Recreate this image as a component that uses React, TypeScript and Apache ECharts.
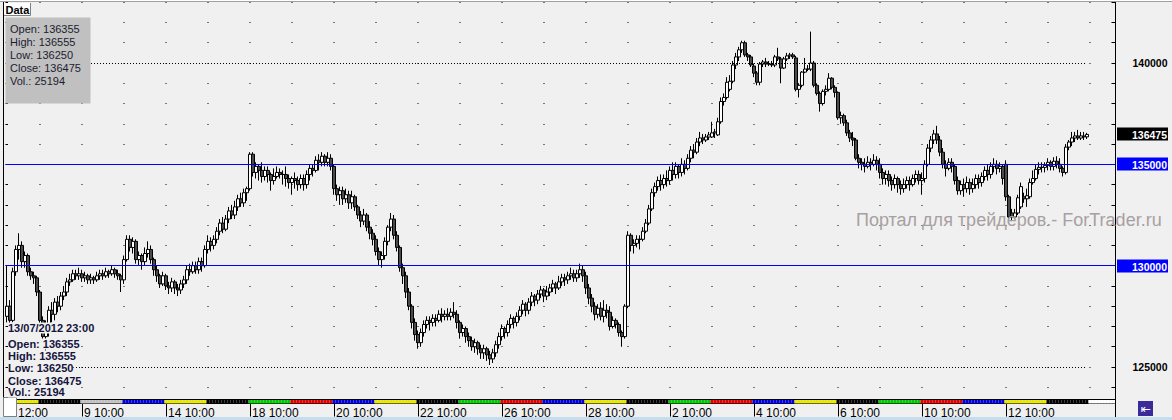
import React, { useEffect, useRef } from "react";
import * as echarts from "echarts";

// ---- time axis data ----
const tradingDays = ["7","8","9","13","14","15","18","19","20","21","22","25","26","27","28","29","2","3","4","5","6","9","10","11","12","13","16"];
// 1 = Mon ... 5 = Fri, 6 = Sat (9 June 2012 was a working Saturday)
const weekdays = [4,5,6,3,4,5,1,2,3,4,5,1,2,3,4,5,1,2,3,4,5,1,2,3,4,5,1];
const firstDayStartHour = 13;
const futureSlots = 9;
const timeLabels = ["12:00","9 10:00","14 10:00","18 10:00","20 10:00","22 10:00","26 10:00","28 10:00","2 10:00","4 10:00","6 10:00","10 10:00","12 10:00"];
const timeLabelBars = [3,25,53,81,109,137,165,193,221,249,277,305,333];
const weekdayColors: Record<number, string> = { 1: "#00c800", 2: "#e00000", 3: "#0000e0", 4: "#e6e600", 5: "#000000", 6: "#c0c0c0" };

// ---- price data: [open, close, low, high] (H1 bars) ----
const candles: number[][] = [
[127500,128000,127200,130000],[128000,127300,127100,128300],[127300,129700,127200,129900],[129700,130800,129500,131000],
[130800,131000,130300,131600],[131000,130200,129900,131200],[130200,130500,129900,130700],[130500,129700,129500,130600],
[129700,129500,129300,129900],[129500,129400,129100,129700],[129400,128700,128500,129500],[128700,127300,127000,128800],
[127300,126500,126300,127500],[126500,126800,125800,127300],[126800,127800,126500,128000],[127800,127600,127200,128200],
[127600,128200,127300,128400],[128200,128000,127700,128500],[128000,128500,127800,128700],[128500,128700,128300,129000],
[128700,129200,128500,129400],[129200,129300,129000,129600],[129300,129600,129200,129800],[129600,129500,129300,129800],
[129500,129600,129300,129900],[129600,129400,129200,129800],[129400,129500,129200,129700],[129500,129300,129100,129600],
[129300,129400,129100,129600],[129400,129300,129100,129500],[129300,129500,129200,129700],[129500,129600,129300,129800],
[129600,129500,129300,129800],[129500,129700,129400,129900],[129700,129600,129400,129800],[129600,129800,129500,130000],
[129800,129600,129400,129900],[129600,129500,129300,129800],[129500,129300,128700,129600],[129300,130300,129100,130500],
[130300,131300,130200,131500],[131300,130900,130700,131500],[130900,131200,130600,131400],[131200,130300,130100,131300],
[130300,130500,130000,130700],[130500,130200,129800,130600],[130200,130600,130000,130900],[130600,130800,130400,131200],
[130800,130300,130100,131000],[130300,129800,129500,130400],[129800,129500,129200,130000],[129500,129100,128900,129600],
[129100,129500,129000,129700],[129500,129000,128800,129600],[129000,128900,128600,129200],[128900,129200,128700,129400],
[129200,128900,128600,129300],[128900,128800,128500,129100],[128800,129100,128600,129300],[129100,129300,128900,129500],
[129300,129800,129100,130000],[129800,129700,129500,130100],[129700,130000,129600,130200],[130000,129800,129600,130200],
[129800,130200,129600,130400],[130200,130000,129700,130400],[130000,130800,129900,131000],[130800,131200,130600,131500],
[131200,131000,130700,131400],[131000,131300,130800,131500],[131300,131700,131100,131900],[131700,132100,131500,132300],
[132100,131800,131600,132400],[131800,132300,131700,132500],[132300,132700,132100,132900],[132700,132500,132300,133000],
[132500,132900,132300,133200],[132900,133300,132700,133500],[133300,133100,132900,133600],[133100,133600,132900,133800],
[133600,133800,133200,133900],[133800,135500,133700,135600],[135500,134600,134400,135600],[134600,134900,134300,135100],
[134900,134700,134200,135000],[134700,134400,134100,135100],[134400,134700,134200,134900],[134700,134500,134100,134900],
[134500,134200,133700,134600],[134200,134400,134000,134800],[134400,134600,134300,134900],[134600,134500,134300,134800],
[134500,134500,134000,134700],[134500,134300,133900,134900],[134300,134100,133800,134500],[134100,134300,133500,134400],
[134300,134200,133800,134600],[134200,134000,133700,134400],[134000,134300,133800,134500],[134300,134000,133700,134500],
[134000,134500,133800,134700],[134500,134800,134200,135000],[134800,134700,134400,135000],[134700,135200,134600,135400],
[135200,135100,134700,135500],[135100,135400,134900,135600],[135400,135100,134900,135500],[135100,135300,134900,135600],
[135300,134900,134700,135500],[134900,133800,133500,135000],[133800,133500,133200,134000],[133500,133700,133000,133900],
[133700,133300,133000,133900],[133300,133500,133100,133800],[133500,133100,132800,133700],[133100,133400,132800,133700],
[133400,132900,132700,133500],[132900,132500,132300,133000],[132500,132200,131900,132700],[132200,132500,132000,132800],
[132500,131900,131700,132600],[131900,131600,131300,132200],[131600,131300,131000,131800],[131300,130700,130500,131500],
[130700,130300,130000,130900],[130300,130500,129900,130700],[130500,131200,130300,131400],[131200,131900,131000,132000],
[131900,132300,131700,132600],[132300,131500,131300,132500],[131500,130900,130700,131700],[130900,129900,129700,131000],
[129900,129500,129100,130100],[129500,128700,128400,129700],[128700,128000,127800,128900],[128000,127200,126900,128100],
[127200,126600,126300,127400],[126600,126200,125900,126800],[126200,126700,126000,126900],[126700,127100,126500,127300],
[127100,127300,126900,127500],[127300,127200,126800,127500],[127200,127400,127000,127600],[127400,127300,127000,127600],
[127300,127600,127200,127800],[127600,127500,127200,127900],[127500,127600,127300,127800],[127600,127500,127300,127900],
[127500,127700,127300,127900],[127700,127600,127400,128200],[127600,127200,126900,127800],[127200,126700,126400,127300],
[126700,126900,126500,127100],[126900,126500,126200,127000],[126500,126300,126000,126700],[126300,126000,125800,126500],
[126000,126200,125700,126400],[126200,125900,125600,126300],[125900,125700,125400,126100],[125700,125900,125400,126100],
[125900,125600,125300,126000],[125600,125400,125100,125800],[125400,125700,125200,125900],[125700,126100,125500,126300],
[126100,126500,125900,126700],[126500,126900,126300,127100],[126900,126700,126400,127000],[126700,127100,126500,127300],
[127100,127400,126900,127600],[127400,127200,126900,127500],[127200,127500,127000,127700],[127500,127800,127300,128000],
[127800,128100,127600,128300],[128100,127800,127500,128200],[127800,128200,127600,128400],[128200,128500,128000,128700],
[128500,128300,128000,128600],[128300,128600,128100,128800],[128600,128800,128400,129000],[128800,128500,128200,128900],
[128500,128700,128300,129000],[128700,128900,128500,129100],[128900,129100,128700,129300],[129100,128900,128600,129200],
[128900,129200,128800,129500],[129200,129400,129000,129600],[129400,129300,129000,129600],[129300,129500,129100,129700],
[129500,129600,129300,129900],[129600,129400,129200,129800],[129400,129600,129200,129800],[129600,129800,129400,130100],
[129800,129500,129200,130000],[129500,128900,128600,129700],[128900,128400,128100,129100],[128400,128000,127700,128600],
[128000,127600,127300,128200],[127600,127900,127400,128100],[127900,127500,127300,128200],[127500,127800,127200,128300],
[127800,127700,127400,128100],[127700,127000,126800,128000],[127000,127300,126900,127500],[127300,127100,126900,127400],
[127100,126700,126500,127200],[126700,126500,126000,126800],[126500,128000,126400,128100],[128000,131500,127900,131700],
[131500,131000,130700,131600],[131000,131100,130600,131300],[131100,131300,130900,131500],[131300,131300,130800,131500],
[131300,131700,131200,131900],[131700,132100,131600,132300],[132100,132800,132000,133000],[132800,133600,132700,133800],
[133600,133900,133400,134100],[133900,134200,133700,134400],[134200,134000,133700,134500],[134000,134300,133800,134500],
[134300,134200,133900,134700],[134200,134700,134000,134900],[134700,134500,134200,135100],[134500,134900,134300,135100],
[134900,134600,134300,135000],[134600,135000,134400,135300],[135000,134800,134500,135200],[134800,135300,134700,135500],
[135300,135700,135100,135900],[135700,135600,135300,136000],[135600,136100,135500,136300],[136100,136300,135900,136600],
[136300,136200,136000,136500],[136200,136350,136100,136500],[136350,136450,136200,136600],[136350,136550,136300,137100],
[136550,136600,136300,136750],[136450,137100,136400,137300],[137100,138100,137000,138300],[138100,138300,137900,138500],
[138300,139050,138200,139300],[138700,139100,138600,139400],[139100,139900,139000,140100],[139900,140300,139700,140500],
[140300,140650,140100,140800],[140650,141000,140500,141100],[141000,140400,140300,141100],[140400,140300,140100,140500],
[140300,139900,139800,140400],[139850,139500,139300,139950],[139500,139050,138900,139600],[139050,139950,138900,140050],
[139950,140050,139800,140150],[140050,139950,139800,140250],[139950,139950,139850,140100],[139950,139900,139800,140100],
[139900,140300,139800,140400],[140300,140200,140100,140750],[140200,139750,139000,140300],[139750,140200,139700,140300],
[140200,140350,140100,140500],[140350,140400,140200,140500],[140400,140300,140200,140500],[140250,138700,138600,140350],
[138700,138900,138300,139000],[138900,139550,138800,139600],[139550,139700,139500,140250],[139700,139700,139600,139900],
[139700,140000,139600,141550],[140000,138900,138800,140100],[138900,138500,138400,139000],[138500,138000,137600,138600],
[138000,138600,137900,138700],[138600,138700,138400,138900],[138700,139250,138600,139500],[139250,138800,138700,139300],
[138800,138550,138300,138900],[138550,137300,137200,138600],[137300,137400,137000,137600],[137400,137050,136900,137500],
[137050,136550,136400,137200],[136550,136300,136100,136700],[136300,136200,135900,136600],[136200,135300,135200,136300],
[135300,135100,134800,135500],[135100,135000,134700,135300],[135000,134900,134600,135300],[134900,135100,134800,135400],
[135100,135000,134700,135300],[135000,135200,134900,135500],[135200,135000,134700,135400],[135000,134600,134300,135300],
[134600,134300,134000,134800],[134300,134500,134000,134700],[134500,134200,133900,134700],[134200,134000,133700,134400],
[134000,134300,133800,134500],[134300,134000,133600,134400],[134000,133800,133500,134200],[133800,134000,133600,134300],
[134000,134200,133800,134400],[134200,134000,133700,134400],[134000,134300,133900,134500],[134300,134500,134100,134700],
[134500,134200,134000,134700],[134200,134300,133500,134600],[134300,135000,134100,135200],[135000,135800,134900,136000],
[135800,136200,135600,136400],[136200,136500,136000,136700],[136500,136200,136000,136900],[136200,135600,135400,136400],
[135600,135000,134800,135800],[135000,134800,134400,135200],[134800,135100,134700,135300],[135100,134900,134600,135300],
[134900,134200,134000,135000],[134200,133700,133500,134400],[133700,134000,133500,134200],[134000,133800,133400,134300],
[133800,134100,133600,134400],[134100,133800,133500,134300],[133800,134000,133600,134300],[134000,134300,133800,134500],
[134300,134100,133800,134500],[134100,134400,133900,134600],[134400,134700,134200,134900],[134700,134500,134200,135000],
[134500,134900,134300,135100],[134900,135000,134600,135300],[135000,134800,134500,135200],[134800,134900,134600,135100],
[134900,134300,134000,135000],[135000,133400,133200,135200],[133400,132400,132200,133500],[132600,132400,132200,132800],
[132400,132600,132300,132800],[132600,133350,132500,133500],[132900,133900,132800,134100],[133400,133300,133100,133600],
[133300,133450,132900,133800],[133400,134100,133300,134300],[134100,134300,134000,134700],[134300,134750,134200,135000],
[134750,134850,134500,135100],[134850,134850,134600,135100],[134850,134950,134600,135100],[134950,135100,134700,135300],
[135100,134900,134700,135200],[134900,135150,134700,135350],[135150,135000,134800,135400],[135000,134800,134600,135300],
[134800,134600,134400,134900],[134600,135850,134500,136000],[135850,136100,135700,136200],[136100,136300,135900,136600],
[136300,136400,136100,136600],[136400,136300,136200,136700],[136300,136400,136200,136600],[136400,136355,136200,136600],
[136355,136475,136250,136555],
];
const lastVolume = 25194;
const lastBarTime = "13/07/2012 23:00";
const blueLevels = [135000, 130000];
const dottedLevels = [140000, 125000];

const FONT = '"Liberation Sans", Arial, sans-serif';

function buildCategories() {
  const cats: string[] = [];
  const colors: string[] = [];
  const total = candles.length + futureSlots;
  for (let d = 0; d < tradingDays.length && cats.length < total; d++) {
    const start = d === 0 ? firstDayStartHour : 10;
    for (let h = start; h <= 23 && cats.length < total; h++) {
      cats.push(`${tradingDays[d]} ${h}:00`);
      colors.push(cats.length > candles.length ? "#ffffff" : weekdayColors[weekdays[d]]);
    }
  }
  return { cats, colors };
}

export default function App() {
  const ref = useRef<HTMLDivElement>(null);
  useEffect(() => {
    if (!ref.current) return;
    const chart = echarts.init(ref.current, undefined, { renderer: "svg" });
    const { cats, colors } = buildCategories();
    const labelMap = new Map<number, string>();
    timeLabelBars.forEach((b, i) => labelMap.set(b, timeLabels[i]));
    const last = candles[candles.length - 1];

    const option: any = {
      animation: false,
      backgroundColor: "#f0f0f0",
      grid: [
        { left: 5.5, top: 2.2, width: 1110, height: 385.07 },
        { left: 5.5, top: 400, width: 1110, height: 3.5 },
      ],
      xAxis: [
        { type: "category", gridIndex: 0, data: cats, boundaryGap: true, show: false },
        {
          type: "category", gridIndex: 1, data: cats, boundaryGap: true,
          axisLine: { show: true, lineStyle: { color: "#000", width: 1 } },
          axisTick: { show: true, alignWithLabel: true, length: 13, interval: (i: number) => labelMap.has(i), lineStyle: { color: "#000" } },
          axisLabel: {
            show: true, interval: (i: number) => labelMap.has(i),
            formatter: (_v: string, i: number) => labelMap.get(i) ?? "",
            align: "left", margin: 3, padding: [0, 0, 0, 2], color: "#000", fontSize: 12, fontFamily: FONT,
          },
          splitLine: { show: false },
        },
      ],
      yAxis: [
        {
          type: "value", gridIndex: 0, position: "right", min: 124000, max: 143000, interval: 1000,
          axisLine: { show: false },
          axisTick: { show: true, inside: true, length: 4, lineStyle: { color: "#000" } },
          axisLabel: {
            show: true, margin: 52, align: "right", color: "#000", fontWeight: "bold", fontSize: 10.5, fontFamily: FONT,
            formatter: (v: number) => (v % 5000 === 0 ? String(v) : ""),
          },
          splitLine: { show: true, lineStyle: { color: "#000", width: 1, type: [1, 41], dashOffset: 7.5 } },
        },
        { type: "value", gridIndex: 1, min: 0, max: 1, show: false },
        {
          type: "value", gridIndex: 0, position: "left", min: 124000, max: 143000, interval: 1000,
          axisLine: { show: false }, axisLabel: { show: false }, splitLine: { show: false },
          axisTick: { show: true, inside: true, length: 2.5, lineStyle: { color: "#000" } },
        },
      ],
      series: [
        {
          type: "candlestick", xAxisIndex: 0, yAxisIndex: 0, barWidth: 3,
          data: candles,
          itemStyle: { color: "#ffffff", color0: "#4a4a4a", borderColor: "#000000", borderColor0: "#000000", borderWidth: 1 },
          markLine: {
            silent: true, symbol: "none", animation: false,
            label: { show: false },
            data: [
              ...blueLevels.map((v) => ({ yAxis: v, lineStyle: { color: "#0000ff", width: 1, type: "solid" } })),
              ...dottedLevels.map((v) => [
                { coord: [0, v], lineStyle: { color: "#000", width: 1, type: [1, 2] } },
                { coord: [candles.length - 1, v] },
              ]),
            ],
          },
        },
        {
          type: "bar", xAxisIndex: 1, yAxisIndex: 1, silent: true, barCategoryGap: "0%",
          data: colors.map((c) => ({ value: 1, itemStyle: { color: c } })),
        },
      ],
    };
    chart.setOption(option);

    const yOf = (v: number) => chart.convertToPixel({ yAxisIndex: 0 } as any, v) as number;
    const tags = [
      { v: last[1], bg: "#000000" },
      ...blueLevels.map((v) => ({ v, bg: "#0000ff" })),
    ];
    const txt = (text: string, x: number, y: number, font: string, fill: string, extra: any = {}) => ({
      type: "text", z: 100,
      style: { text, x, y, font, fill, textVerticalAlign: "middle", verticalAlign: "middle", ...extra },
    });
    const graphics: any[] = [
      // frame
      { type: "rect", z: 90, shape: { x: 0, y: 0, width: 1172, height: 1.5 }, style: { fill: "#ffffff" } },
      { type: "line", z: 90, shape: { x1: 0, y1: 1.5, x2: 1172, y2: 1.5 }, style: { stroke: "#a0a0a0", lineWidth: 1 } },
      { type: "line", z: 90, shape: { x1: 3.5, y1: 2, x2: 3.5, y2: 400 }, style: { stroke: "#000", lineWidth: 1 } },
      { type: "line", z: 90, shape: { x1: 3.5, y1: 399.5, x2: 1116, y2: 399.5 }, style: { stroke: "#000", lineWidth: 1 } },
      { type: "line", z: 90, shape: { x1: 1115.5, y1: 2, x2: 1115.5, y2: 418 }, style: { stroke: "#000", lineWidth: 1 } },
      { type: "rect", z: 90, shape: { x: 0, y: 417, width: 1172, height: 3 }, style: { fill: "#c8dcf0" } },
      { type: "rect", z: 91, shape: { x: 3.5, y: 397.5, width: 13, height: 19 }, style: { fill: "#ffffff", stroke: "#808080", lineWidth: 1 } },
      // data box
      { type: "rect", z: 95, shape: { x: 5.5, y: 17.5, width: 85, height: 86 }, style: { fill: "#c0c0c0" } },
      txt(`Open: ${last[0]}`, 10, 29, `11px ${FONT}`, "#1c1c30"),
      txt(`High: ${last[3]}`, 10, 42, `11px ${FONT}`, "#1c1c30"),
      txt(`Low: ${last[2]}`, 10, 55, `11px ${FONT}`, "#1c1c30"),
      txt(`Close: ${last[1]}`, 10, 68, `11px ${FONT}`, "#1c1c30"),
      txt(`Vol.: ${lastVolume}`, 10, 81, `11px ${FONT}`, "#1c1c30"),
      // tab
      { type: "rect", z: 95, shape: { x: 4, y: 3, width: 26.5, height: 12 }, style: { fill: "#ffffff" } },
      { type: "polyline", z: 96, shape: { points: [[30.5, 3], [30.5, 15.5], [4, 15.5]] }, style: { stroke: "#808080", fill: "none", lineWidth: 1 } },
      txt("Data", 5.5, 9.5, `bold 11px ${FONT}`, "#000"),
      // watermark
      txt("Портал для трейдеров.- ForTrader.ru", 856, 220, `18px ${FONT}`, "#a8a0a0"),
      // lower-left info
      txt(lastBarTime, 8, 328, `bold 11px ${FONT}`, "#14143c", { backgroundColor: "#f0f0f0" }),
      txt(`Open: ${last[0]}`, 8, 344, `bold 11px ${FONT}`, "#14143c", { backgroundColor: "#f0f0f0" }),
      txt(`High: ${last[3]}`, 8, 356, `bold 11px ${FONT}`, "#14143c", { backgroundColor: "#f0f0f0" }),
      txt(`Low: ${last[2]}`, 8, 368, `bold 11px ${FONT}`, "#14143c", { backgroundColor: "#f0f0f0" }),
      txt(`Close: ${last[1]}`, 8, 380.5, `bold 11px ${FONT}`, "#14143c", { backgroundColor: "#f0f0f0" }),
      txt(`Vol.: ${lastVolume}`, 8, 392, `bold 11px ${FONT}`, "#14143c", { backgroundColor: "#f0f0f0" }),
      // button
      { type: "rect", z: 95, shape: { x: 1138, y: 401, width: 15, height: 15 }, style: { fill: "#3a2a9a" } },
      txt("⇤", 1145.5, 408.5, `12px "DejaVu Sans"`, "#ffffff", { textAlign: "center", align: "center" }),
    ];
    tags.forEach((t) => {
      const y = Math.round(yOf(t.v));
      graphics.push({ type: "rect", z: 97, shape: { x: 1117, y: y - 6.5, width: 51, height: 13 }, style: { fill: t.bg } });
      graphics.push(txt(String(t.v), 1167, y + 0.5, `bold 10.5px ${FONT}`, "#ffffff", { textAlign: "right", align: "right" }));
    });
    chart.setOption({ graphic: graphics });
    return () => chart.dispose();
  }, []);
  return <div ref={ref} style={{ position: "fixed", left: 0, top: 0, width: 1172, height: 420 }} />;
}
